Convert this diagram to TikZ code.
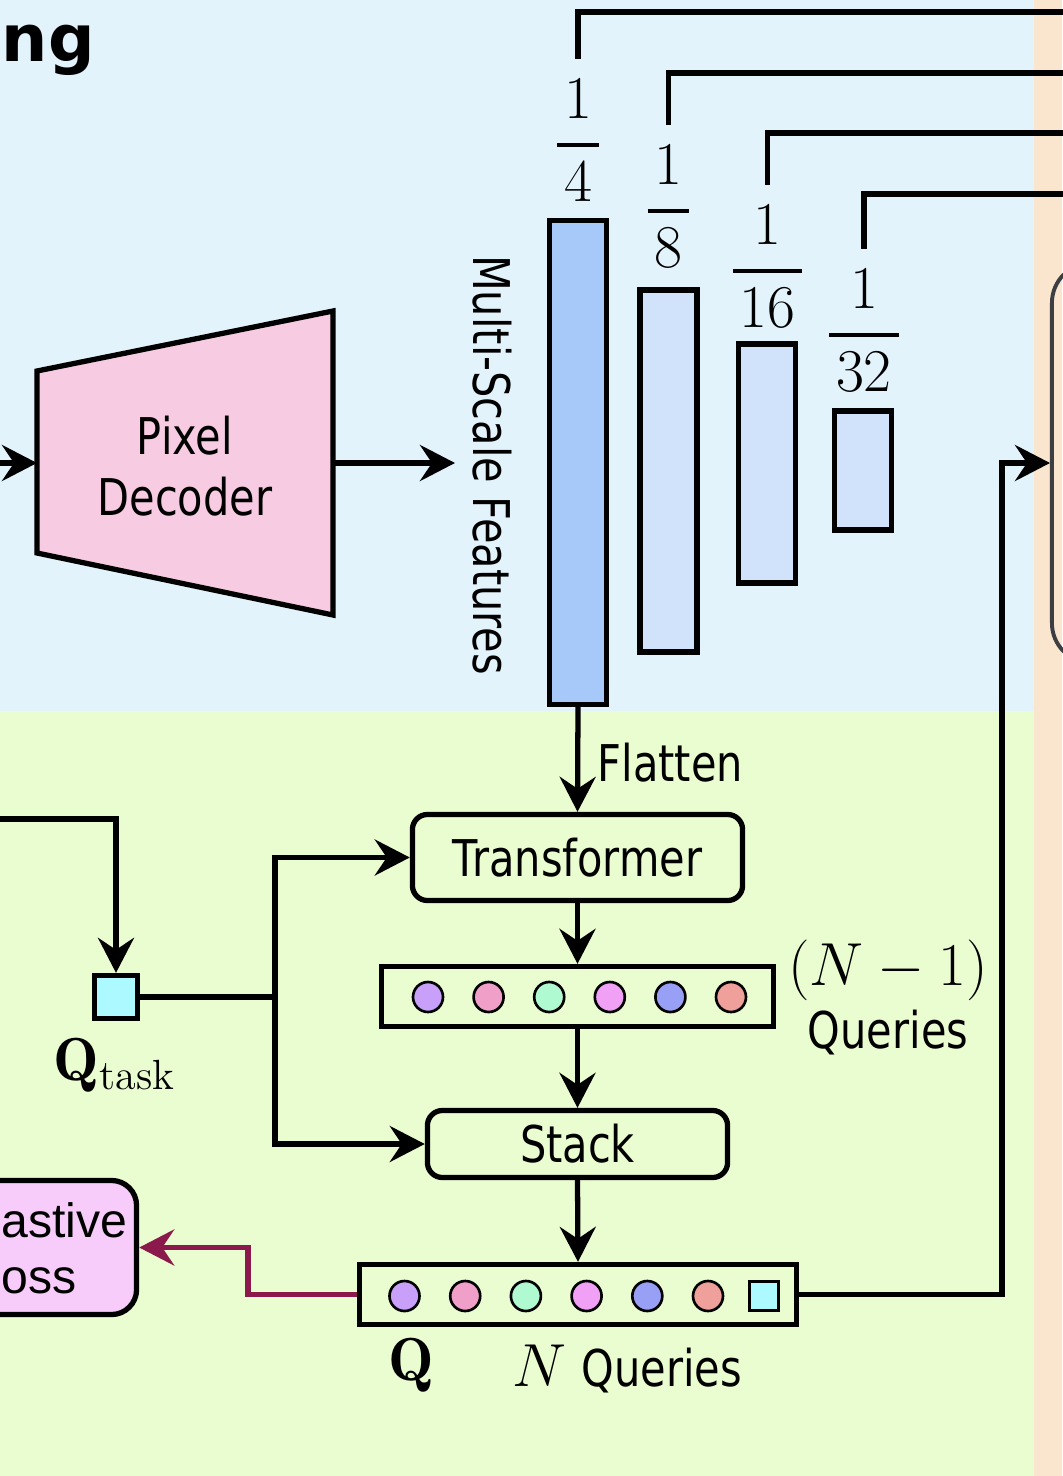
\documentclass[tikz,border=0pt]{standalone}
\usepackage{amsmath}
\usepackage{fontspec}
\setsansfont{DejaVu Sans}[FakeStretch=0.82]
\newfontfamily\lossfont{Liberation Sans}
\newfontfamily\headfont{DejaVu Sans}
\usetikzlibrary{arrows.meta}

\definecolor{bgblue}{RGB}{226,243,252}
\definecolor{bggreen}{RGB}{234,253,208}
\definecolor{bgpeach}{RGB}{250,229,207}
\definecolor{pdpink}{RGB}{247,204,227}
\definecolor{losspink}{RGB}{247,204,250}
\definecolor{featdark}{RGB}{166,201,250}
\definecolor{featlight}{RGB}{208,227,250}
\definecolor{taskcyan}{RGB}{172,250,255}
\definecolor{lossred}{RGB}{140,25,75}
\definecolor{headgray}{RGB}{60,62,66}
\definecolor{qa}{RGB}{200,160,250}
\definecolor{qb}{RGB}{240,160,200}
\definecolor{qc}{RGB}{176,250,210}
\definecolor{qd}{RGB}{240,160,245}
\definecolor{qe}{RGB}{152,160,245}
\definecolor{qf}{RGB}{240,160,155}

\newcommand{\lbl}{\fontsize{14.4}{17.3}\selectfont\sffamily}
\newcommand{\mth}{\fontsize{17.28}{20}\selectfont}
\newcommand{\scl}[1]{$\genfrac{}{}{1.1pt}{0}{1}{\kern2pt#1\kern2pt}$}

\tikzset{
  line/.style={line width=1.5pt},
  arr/.style={line width=1.5pt, -{Stealth[length=0.35cm,width=0.36cm,inset=0.12cm]}},
  feat/.style={draw, line width=1.5pt, fill=featlight, minimum width=0.57cm, inner sep=0},
  blk/.style={draw, line width=1.5pt, rounded corners=0.15cm, inner sep=0, font=\lbl},
  qbar/.style={draw, line width=1.5pt, inner sep=0, minimum height=0.6cm},
  qdot/.style={circle, draw, line width=0.75pt, minimum size=0.3cm, inner sep=0},
  qsq/.style={draw, line width=0.75pt, fill=taskcyan, minimum size=0.29cm, inner sep=0},
  frac/.style={font=\mth, anchor=base, inner sep=0.2cm},
  losstext/.style={font=\lossfont\fontsize{13.7}{15.9}\selectfont, anchor=base west, inner sep=0}
}

\begin{document}
\begin{tikzpicture}[x=0.01cm, y=-0.01cm]
    % backgrounds
    \fill[bgblue] (0,0) rectangle (1034,711);
    \fill[bggreen] (0,711) rectangle (1034,1476);
    \fill[bgpeach] (1034,0) rectangle (1062,1476);
    \useasboundingbox (0,0) rectangle (1062,1476);
    \node[font=\headfont\bfseries\fontsize{18.5}{22}\selectfont, anchor=base west, inner sep=0] (title) at (1,62) {ng};

    % pixel decoder
    \draw[line, fill=pdpink] (37,371) -- (333,311) -- (333,615) -- (37,553) -- cycle;
    \node[font=\lbl, align=center] (pd) at (185,466.5) {Pixel\\Decoder};
    \coordinate (src) at (-10,463);
    \coordinate (pdin) at (37,463);
    \coordinate (pdout) at (333,463);
    \coordinate (feat) at (455,463);
    \draw[arr] (src) -- (pdin);
    \draw[arr] (pdout) -- (feat);
    \node[font=\lbl, rotate=-90] (msf) at (492,465) {Multi-Scale Features};

    % multi-scale features
    \node[feat, fill=featdark, minimum height=4.83cm] (s4) at (578,462.5) {};
    \node[feat, minimum height=3.62cm] (s8) at (668.5,471) {};
    \node[feat, minimum height=2.39cm] (s16) at (767,463.5) {};
    \node[feat, minimum height=1.19cm] (s32) at (863,470.5) {};
    \foreach \n/\d/\x/\y/\t in {f4/4/578/160/12, f8/8/668.5/226/73, f16/16/767.5/286/133, f32/32/864/350/194} {
        \node[frac] (\n) at (\x,\y) {\scl{\d}};
        \coordinate (o\n) at (1080,\t);
        \draw[line] (\n.north) |- (o\n);
    }

    % head on the right
    \node[draw=headgray, line width=1.1pt, rounded corners=0.4cm, minimum width=3cm, minimum height=4cm] (head) at (1202,463) {};

    % transformer and queries
    \node[blk, minimum width=3.3cm, minimum height=0.86cm] (tr) at (577.5,857.5) {Transformer};
    \draw[arr] (s4.south) -- (tr.north);
    \node[font=\lbl, anchor=base west, inner sep=0] (flat) at (597,781) {Flatten};
    \node[qbar, minimum width=3.92cm] (qrow) at (577.5,996.5) {};
    \foreach \c [count=\i] in {qa,qb,qc,qd,qe,qf}
        \node[qdot, fill=\c] (qd\i) at ({428+60.6*(\i-1)},997) {};
    \node[font=\mth, anchor=base] (nm1) at (888,985) {$(N-1)$};
    \node[font=\lbl, anchor=base] (qlab) at (888,1048) {Queries};
    \node[blk, minimum width=3cm, minimum height=0.67cm] (st) at (577.5,1144) {Stack};
    \node[qbar, minimum width=4.37cm] (nrow) at (578,1294.5) {};
    \foreach \c [count=\i] in {qa,qb,qc,qd,qe,qf}
        \node[qdot, fill=\c] (nd\i) at ({404.5+60.7*(\i-1)},1296) {};
    \node[qsq] (nsq) at (764,1296) {};
    \node[font=\mth, anchor=base] (qsym) at (411,1380) {$\mathbf{Q}$};
    \node[anchor=base west, inner sep=0] (nq) at (512,1386) {\mth$N$\kern0.15cm\lbl Queries};
    \draw[arr] (tr.south) -- (qrow.north);
    \draw[arr] (qrow.south) -- (st.north);
    \draw[arr] (st.south) -- (nrow.north);

    % task query
    \node[draw, line width=1.5pt, fill=taskcyan, minimum size=0.43cm, inner sep=0] (qt) at (116,997) {};
    \node[font=\mth, anchor=base] (qtl) at (115,1080) {$\mathbf{Q}_{\mathrm{task}}$};
    \coordinate (tin) at (-10,819);
    \coordinate (br) at (275,997);
    \draw[arr] (tin) -| (qt.north);
    \draw[line] (qt.east) -- (br);
    \draw[arr] (br) |- (tr.west);
    \draw[arr] (br) |- (st.west);

    % loss
    \node[draw, line width=1.5pt, fill=losspink, rounded corners=0.25cm, minimum width=2.73cm, minimum height=1.34cm] (loss) at (0,1247.5) {};
    \node[losstext] (loss1) at (1,1237) {astive};
    \node[losstext] (loss2) at (1,1293) {oss};
    \coordinate (lb) at (248,1294.5);
    \draw[arr, draw=lossred] (nrow.west) -- (lb) |- (loss.east);

    % to the head
    \coordinate (up) at (1002,1294.5);
    \draw[arr] (nrow.east) -- (up) |- (head.west);
\end{tikzpicture}
\end{document}
